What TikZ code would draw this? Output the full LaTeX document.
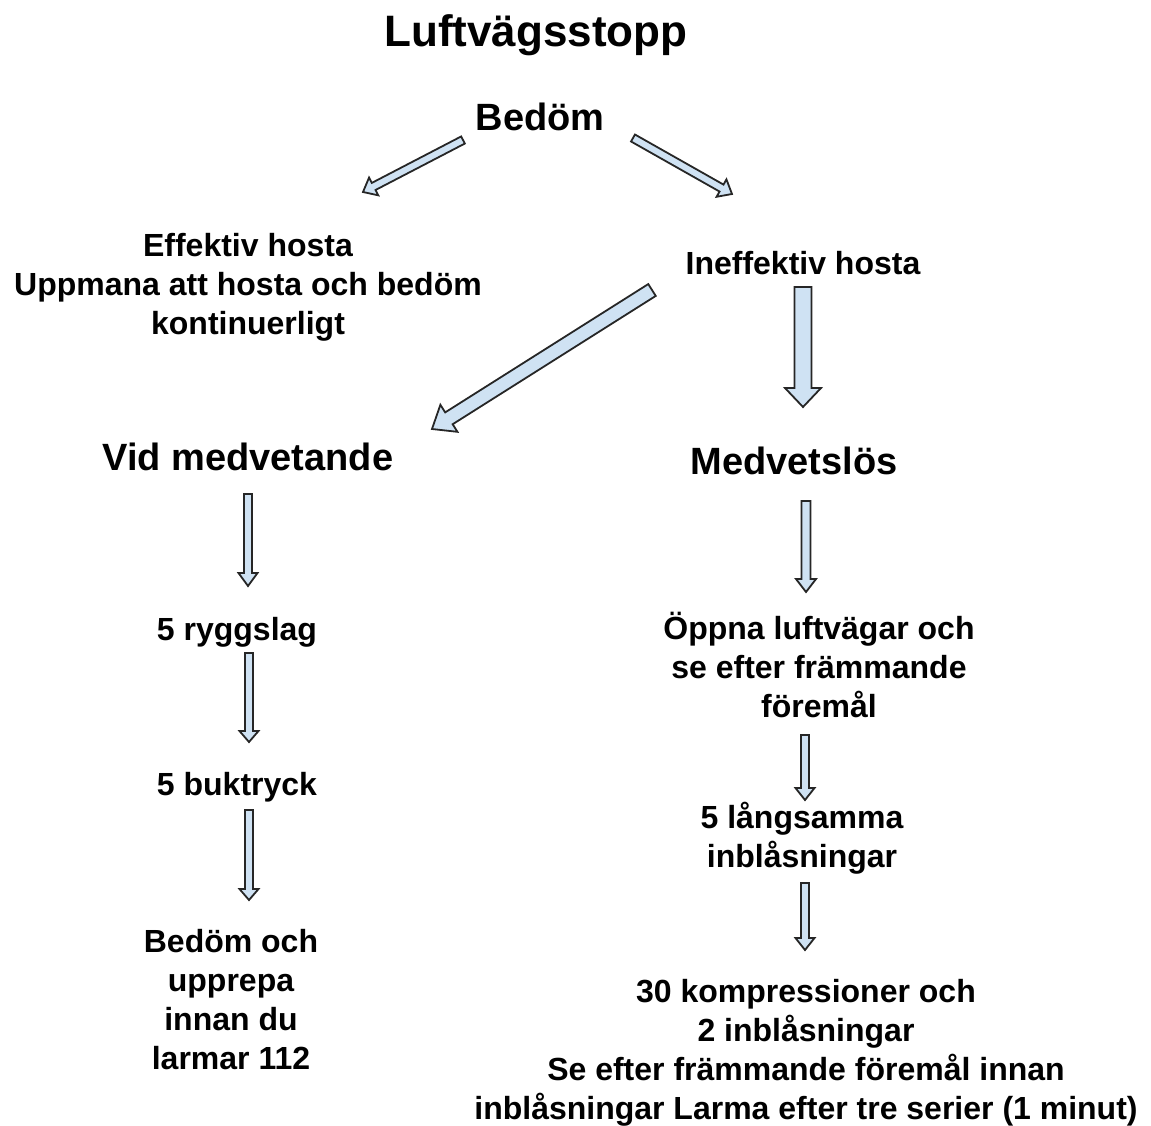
\documentclass[tikz,border=0pt]{standalone}
\usepackage{fontspec}
\setmainfont{Liberation Sans}
\usetikzlibrary{calc}
\definecolor{lvblue}{HTML}{CFE2F3}
\tikzset{
  lvtitle/.style={anchor=base, font=\fontsize{44}{50}\selectfont\bfseries, inner sep=0pt},
  lvhead/.style={anchor=base, font=\fontsize{38}{44}\selectfont\bfseries, inner sep=0pt},
  lvtext/.style={anchor=base, align=center, font=\fontsize{32}{39}\selectfont\bfseries, inner sep=0pt},
  lvarrow/.style={draw=black!85, fill=lvblue, line width=1.8pt, line join=miter}
}
% block arrow: from, to, half shaft, half head, head length
\newcommand{\blockarrow}[5]{%
  \draw[lvarrow] let \p1=($(#2)-(#1)$), \n1={atan2(\y1,\x1)}, \n2={veclen(\x1,\y1)-#5} in
    ($(#1)+(\n1+90:#3)$) -- ++(\n1:\n2) -- ++(\n1+90:#4-#3) -- (#2)
    -- ($(#1)+(\n1:\n2)+(\n1-90:#4)$) -- ++(\n1+90:#4-#3) -- ($(#1)+(\n1-90:#3)$) -- cycle;
}

\begin{document}
\begin{tikzpicture}[x=1pt, y=1pt]
  \useasboundingbox (0,0) rectangle (1151,-1125);
  \node[lvtitle] (title) at (536,-46) {Luftvägsstopp};
  \node[lvhead] (bedom) at (540,-130) {Bedöm};
  \node[lvtext] (eff) at (248,-334) {Effektiv hosta\\Uppmana att hosta och bedöm\\kontinuerligt};
  \node[lvtext] (ineff) at (803,-274) {Ineffektiv hosta};
  \node[lvhead] (vid) at (248,-470) {Vid medvetande};
  \node[lvhead] (medv) at (794,-474) {Medvetslös};
  \node[lvtext] (rygg) at (237,-640) {5 ryggslag};
  \node[lvtext] (bukt) at (237,-795) {5 buktryck};
  \node[lvtext] (upprepa) at (231,-1069) {Bedöm och\\upprepa\\innan du\\larmar 112};
  \node[lvtext] (oppna) at (819,-717) {Öppna luftvägar och\\se efter främmande\\föremål};
  \node[lvtext] (inbl) at (802,-867) {5 långsamma\\inblåsningar};
  \node[lvtext] (komp) at (806,-1119) {30 kompressioner och\\2 inblåsningar\\Se efter främmande föremål innan\\inblåsningar Larma efter tre serier (1 minut)};

  \coordinate (b1) at (463,-140); \coordinate (e1) at (363,-192);
  \coordinate (b2) at (633,-138); \coordinate (e2) at (732,-194);
  \coordinate (b3) at (652,-290); \coordinate (e3) at (432,-429);
  \coordinate (b4) at (803,-287); \coordinate (e4) at (803,-407);
  \coordinate (b5) at (248,-494); \coordinate (e5) at (248,-586);
  \coordinate (b6) at (249,-653); \coordinate (e6) at (249,-742);
  \coordinate (b7) at (249,-810); \coordinate (e7) at (249,-900);
  \coordinate (b8) at (806,-501); \coordinate (e8) at (806,-592);
  \coordinate (b9) at (805,-735); \coordinate (e9) at (805,-800);
  \coordinate (b10) at (805,-883); \coordinate (e10) at (805,-950);

  \blockarrow{b1}{e1}{4}{10}{12}
  \blockarrow{b2}{e2}{4}{10}{12}
  \blockarrow{b3}{e3}{7}{16}{20}
  \blockarrow{b4}{e4}{8.5}{18}{19}
  \blockarrow{b5}{e5}{4}{9.5}{13}
  \blockarrow{b6}{e6}{4}{9.5}{11}
  \blockarrow{b7}{e7}{4}{9.5}{11}
  \blockarrow{b8}{e8}{4.5}{10}{13}
  \blockarrow{b9}{e9}{4}{9.5}{12}
  \blockarrow{b10}{e10}{4}{9.5}{12}
\end{tikzpicture}
\end{document}
